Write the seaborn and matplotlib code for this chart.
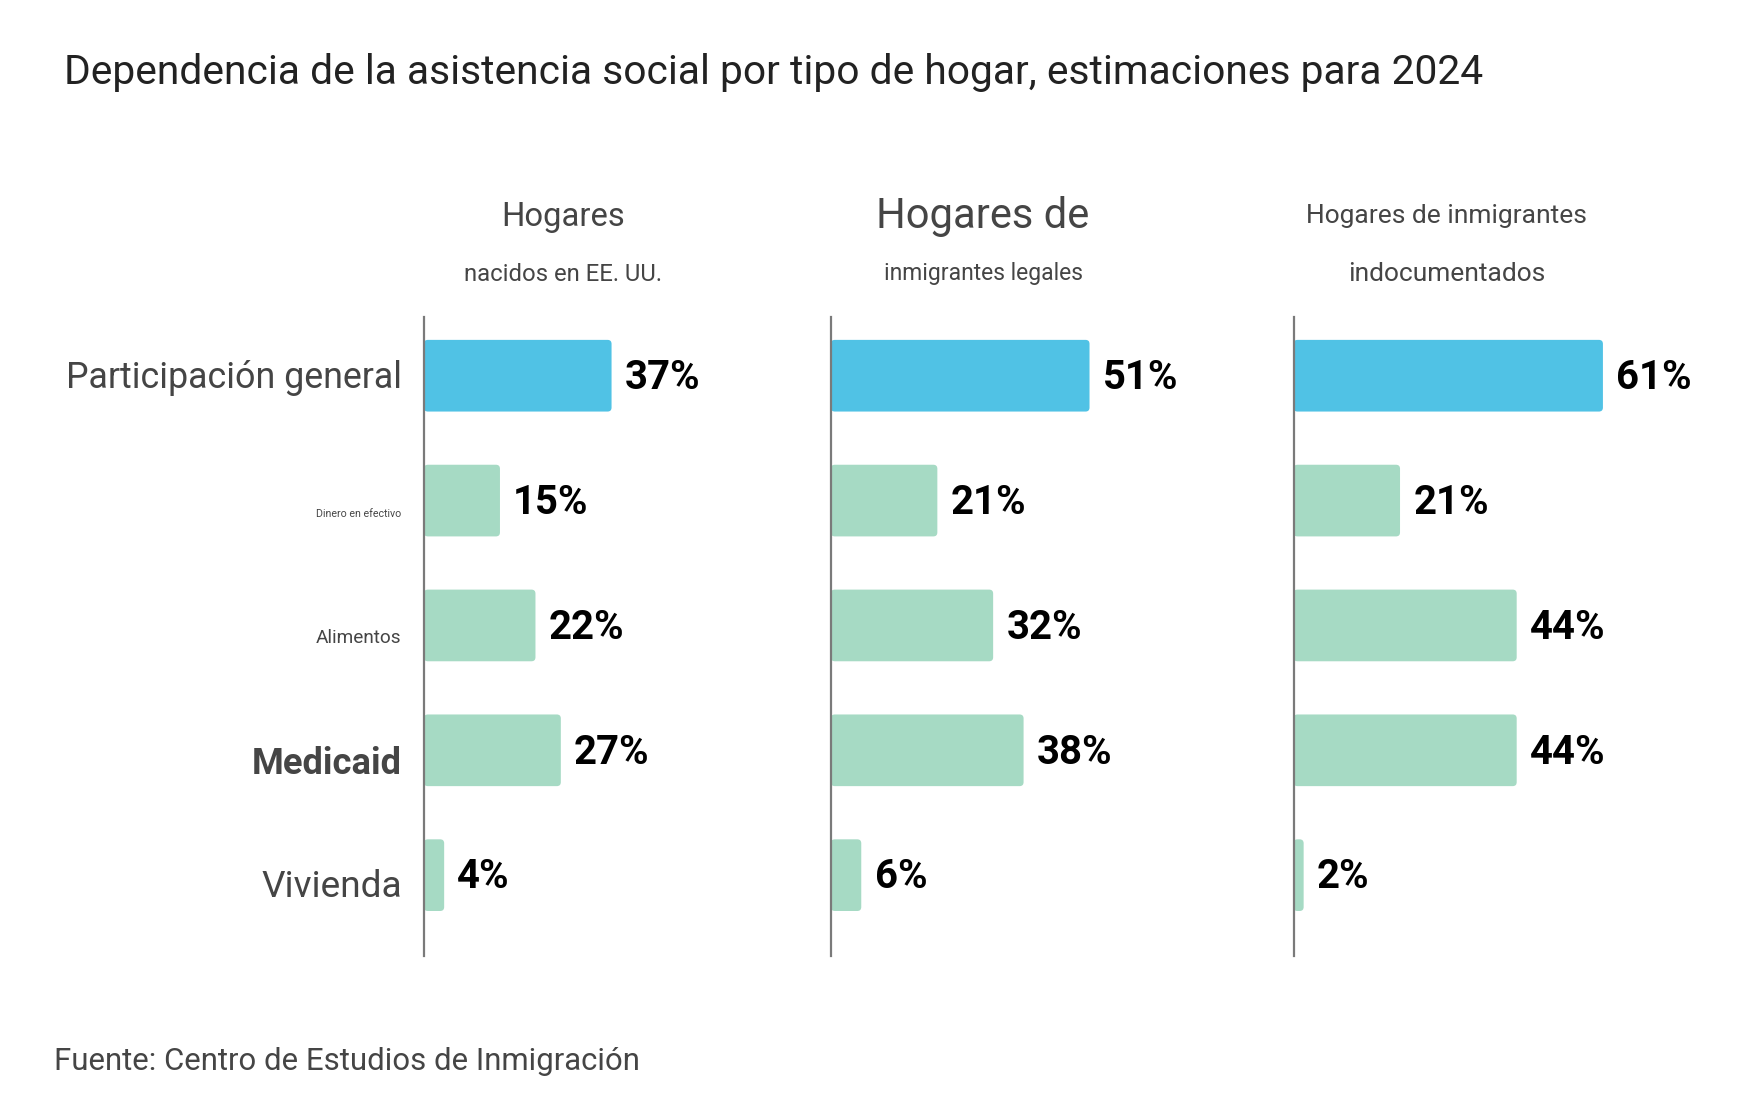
import matplotlib
matplotlib.use("Agg")
import matplotlib.pyplot as plt
import matplotlib.transforms as mtrans
from matplotlib.patches import FancyBboxPatch
import seaborn as sns
import pandas as pd

# ---------------- data ----------------
categories = ["Participación general", "Dinero en efectivo", "Alimentos", "Medicaid", "Vivienda"]
nacidos = [37, 15, 22, 27, 4]
legales = [51, 21, 32, 38, 6]
indocumentados = [61, 21, 44, 44, 2]
series = [nacidos, legales, indocumentados]
panel_line1 = ["Hogares", "Hogares de", "Hogares de inmigrantes"]
panel_line2 = ["nacidos en EE. UU.", "inmigrantes legales", "indocumentados"]
title = "Dependencia de la asistencia social por tipo de hogar, estimaciones para 2024"
source = "Fuente: Centro de Estudios de Inmigración"

# ---------------- style ----------------
W, H, DPI = 1748, 1102, 100
S = 0.995  # layout scale
sns.set_theme(style="white")
plt.rcParams["font.family"] = ["Roboto", "DejaVu Sans"]

BLUE = "#50C2E5"
GREEN = "#A6DAC4"
GREY = "#454545"
palette = [BLUE] + [GREEN] * (len(categories) - 1)

fig = plt.figure(figsize=(W / DPI, H / DPI), dpi=DPI)
fig.patch.set_facecolor("white")
renderer = fig.canvas.get_renderer()


def fit(t, target_px):
    bb = t.get_window_extent(renderer)
    t.set_fontsize(t.get_fontsize() * target_px * S / bb.width)
    return t


def fy(px):
    return 1 - px * S / H


def fx(px):
    return px * S / W


# title
t = fig.text(fx(64), fy(84), title, ha="left", va="baseline", fontsize=28, color="#222222")
fit(t, 1424)

# source
t = fig.text(fx(54), fy(1075), source, ha="left", va="baseline", fontsize=22, color=GREY)
fit(t, 588)

# panels
axis_left = [426, 835, 1300]
head_cx = [566, 988, 1454]
head1_base = [227, 229, 224]
head2_base = [282, 281, 282]
head1_w = [124, 214, 281]
head2_w = [199, 200, 199]
XMAX = 68
PX_PER_PCT = 5.098 * S
ax_bottom, ax_top = 961, 319
RADIUS_PX = 4.0

# category label styling
lab_w = [337, 85, 86, 151, 141]
lab_weight = ["normal", "normal", "normal", "bold", "normal"]
lab_shift = [12.4, 17, 18, 23.5, 22.4]  # px, baseline below bar centre

vsize = None
for k, (vals, ax_x) in enumerate(zip(series, axis_left)):
    ax = fig.add_axes([fx(ax_x), fy(ax_bottom), XMAX * PX_PER_PCT / W, (ax_bottom - ax_top) * S / H])
    df = pd.DataFrame({"cat": categories, "val": vals})
    sns.barplot(data=df, x="val", y="cat", hue="cat", palette=palette, orient="h",
                width=0.574, legend=False, ax=ax, saturation=1)
    ax.set_xlim(0, XMAX)
    ylo, yhi = 4 + 0.649, -0.467
    ax.set_ylim(ylo, yhi)
    ax.set_xlabel("")
    ax.set_ylabel("")
    ax.set_xticks([])
    ax.set_facecolor("none")
    for s in ["top", "right", "bottom"]:
        ax.spines[s].set_visible(False)
    ax.spines["left"].set_color("#7A7A7A")
    ax.spines["left"].set_linewidth(1.6)
    ax.spines["left"].set_zorder(5)
    ax.tick_params(axis="y", length=0, pad=16)

    # rounded bar corners (replace seaborn rectangles with rounded ones of same geometry)
    px_per_y = (ax_bottom - ax_top) * S / (ylo - yhi)
    aspect = PX_PER_PCT / px_per_y
    for p in list(ax.patches):
        x0, y0 = p.get_x(), p.get_y()
        w, h = p.get_width(), p.get_height()
        if w <= 0:
            continue
        r = min(RADIUS_PX / PX_PER_PCT, w / 2)
        fb = FancyBboxPatch((x0, y0), w, h, boxstyle=f"round,pad=0,rounding_size={r}",
                            mutation_aspect=aspect, facecolor=p.get_facecolor(),
                            edgecolor="none", linewidth=0, zorder=p.get_zorder())
        p.set_visible(False)
        ax.add_patch(fb)

    ax.set_yticks(range(len(categories)))
    if k == 0:
        labels = ax.set_yticklabels(categories, color=GREY, va="baseline")
        for i, lab in enumerate(labels):
            lab.set_fontweight(lab_weight[i])
            lab.set_fontsize(20)
            fit(lab, lab_w[i])
            off = mtrans.ScaledTranslation(0, -lab_shift[i] * S / DPI, fig.dpi_scale_trans)
            lab.set_transform(lab.get_transform() + off)
    else:
        ax.set_yticklabels([])

    for i, v in enumerate(vals):
        a = ax.annotate(f"{v}%", (v, i), xytext=(9.6 * S, -9.6 * S), textcoords="offset points",
                        ha="left", va="baseline", fontsize=26, fontweight="bold", color="#000000")
        if vsize is None:
            fit(a, 76)
            vsize = a.get_fontsize()
        a.set_fontsize(vsize)

    t1 = fig.text(fx(head_cx[k]), fy(head1_base[k]), panel_line1[k], ha="center", va="baseline",
                  fontsize=20, color=GREY)
    fit(t1, head1_w[k])
    t2 = fig.text(fx(head_cx[k]), fy(head2_base[k]), panel_line2[k], ha="center", va="baseline",
                  fontsize=16, color=GREY)
    fit(t2, head2_w[k])

fig.savefig("out.png", dpi=DPI, facecolor="white")
